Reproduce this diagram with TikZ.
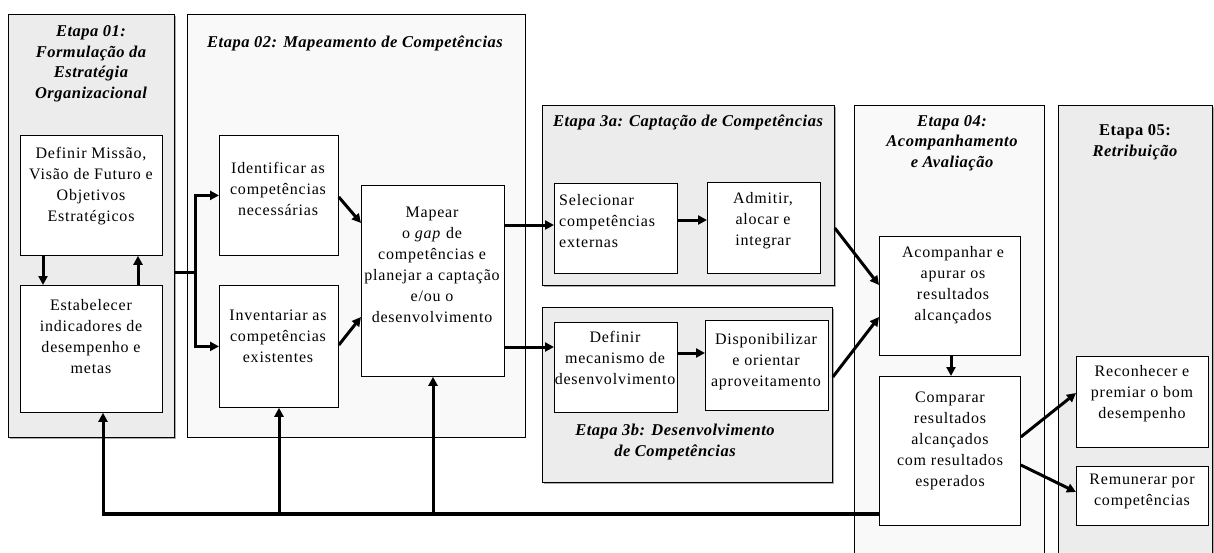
\documentclass[tikz,border=0pt]{standalone}
\usepackage{fontspec}
\setmainfont{Liberation Serif}
\newfontfamily\bodyfont[LetterSpace=5]{Liberation Serif}
\newfontfamily\titlefont[LetterSpace=3]{Liberation Serif}
\usetikzlibrary{arrows.meta,shadows}
\begin{document}
\begin{tikzpicture}[x=1pt,y=-1pt,
  stage/.style={draw=black, line width=0.8pt, inner sep=0pt, anchor=north west},
  dark/.style={stage, fill=gray!15, drop shadow={shadow xshift=2pt,shadow yshift=-2pt,fill=gray!65,opacity=1}},
  light/.style={stage, fill=gray!5},
  box/.style={draw=black, line width=0.8pt, fill=white, inner sep=0pt, anchor=north west},
  txt/.style={align=center, font=\bodyfont\fontsize{16}{21}\selectfont, inner sep=0pt},
  ttl/.style={align=center, font=\titlefont\fontsize{16.5}{20.5}\selectfont\bfseries\itshape, inner sep=0pt},
  arr/.style={line width=3pt, -{Triangle[length=9pt,width=9pt]}},
  ln/.style={line width=3pt},
]
\useasboundingbox (0,0) rectangle (1214,552);
% stages
\node[dark, minimum width=166, minimum height=423] (s1) at (8,14) {};
\node[light, minimum width=338, minimum height=423] (s2) at (187,14) {};
\node[dark, minimum width=292, minimum height=180] (s3a) at (542,105) {};
\node[dark, minimum width=290, minimum height=175] (s3b) at (542,307) {};
\node[light, minimum width=190, minimum height=470] (s4) at (854,105) {};
\node[dark, minimum width=154, minimum height=470] (s5) at (1058,105) {};
% titles
\node[ttl] (t1) at (91,64) {Etapa 01:\\Formulação da\\Estratégia\\Organizacional};
\node[ttl] (t2) at (355,43) {Etapa 02: Mapeamento de Competências};
\node[ttl] (t3a) at (688,122) {Etapa 3a: Captação de Competências};
\node[ttl] (t3b) at (675,442) {Etapa 3b: Desenvolvimento\\de Competências};
\node[ttl] (t4) at (952,143) {Etapa 04:\\Acompanhamento\\e Avaliação};
\node[ttl] (t5) at (1135,142) {\upshape Etapa 05:\\Retribuição};
% boxes
\node[box, minimum width=142, minimum height=120] (defmis) at (20,135) {};
\node[txt] (defmist) at (91,186) {Definir Missão,\\Visão de Futuro e\\Objetivos\\Estratégicos};
\node[box, minimum width=142, minimum height=127] (estab) at (20,285) {};
\node[txt] (estabt) at (91,337) {Estabelecer\\indicadores de\\desempenho e\\metas};
\node[box, minimum width=119, minimum height=120] (ident) at (219,135) {};
\node[txt] (identt) at (278,189) {Identificar as\\competências\\necessárias};
\node[box, minimum width=119, minimum height=122] (invent) at (219,285) {};
\node[txt] (inventt) at (278,336) {Inventariar as\\competências\\existentes};
\node[box, minimum width=143, minimum height=191] (mapear) at (361,185) {};
\node[txt] (mapeart) at (432,265) {Mapear\\o \textit{gap} de\\competências e\\planejar a captação\\e/ou o\\desenvolvimento};
\node[box, minimum width=123, minimum height=90] (sel) at (554,183) {};
\node[txt, align=left, anchor=west] (selt) at (559,221) {Selecionar\\competências\\externas};
\node[box, minimum width=113, minimum height=91] (adm) at (707,182) {};
\node[txt] (admt) at (763,221) {Admitir,\\alocar e\\integrar};
\node[box, minimum width=123, minimum height=90] (defm) at (554,322) {};
\node[txt] (defmt) at (615,358) {Definir\\mecanismo de\\desenvolvimento};
\node[box, minimum width=123, minimum height=90] (disp) at (705,320) {};
\node[txt] (dispt) at (766,362) {Disponibilizar\\e orientar\\aproveitamento};
\node[box, minimum width=141, minimum height=119] (acomp) at (879,236) {};
\node[txt] (acompt) at (953,285) {Acompanhar e\\apurar os\\resultados\\alcançados};
\node[box, minimum width=141, minimum height=149] (comp) at (879,376) {};
\node[txt] (compt) at (950,441) {Comparar\\resultados\\alcançados\\com resultados\\esperados};
\node[box, minimum width=132, minimum height=91] (recon) at (1076,356) {};
\node[txt] (recont) at (1142,394) {Reconhecer e\\premiar o bom\\desempenho};
\node[box, minimum width=132, minimum height=59] (remun) at (1076,466) {};
\node[txt] (remunt) at (1142,491) {Remunerar por\\competências};
% connectors
\coordinate (br) at (195,272);
\draw[ln] (br -| s1.east) -- (br);
\draw[arr] (br) |- (ident.west);
\draw[arr] (br) |- (invent.west);
\draw[arr] (defmis.south -| 43,0) -- (estab.north -| 43,0);
\draw[arr] (estab.north -| 138,0) -- (defmis.south -| 138,0);
\draw[arr] (ident.east |- 0,197) -- (mapear.west |- 0,223);
\draw[arr] (invent.east |- 0,345) -- (mapear.west |- 0,317);
\draw[arr] (mapear.east |- 0,225) -- (sel.west |- 0,225);
\draw[arr] (mapear.east |- 0,347) -- (defm.west |- 0,347);
\draw[arr] (sel.east |- 0,220) -- (adm.west |- 0,220);
\draw[arr] (defm.east |- 0,353) -- (disp.west |- 0,353);
\draw[arr] (s3a.east |- 0,228) -- (acomp.west |- 0,285);
\draw[arr] (s3b.east |- 0,377) -- (acomp.west |- 0,317);
\draw[arr] (acomp.south -| 951,0) -- (comp.north -| 951,0);
\draw[arr] (comp.east |- 0,437) -- (recon.west |- 0,393);
\draw[arr] (comp.east |- 0,465) -- (remun.west |- 0,492);
% feedback
\coordinate (fb1) at (103,514);
\coordinate (fb2) at (279,514);
\coordinate (fb3) at (433,514);
\draw[ln, line width=3.5pt] (comp.west |- fb1) -- ([xshift=-1.5pt]fb1);
\draw[arr] (fb1) -- (estab.south -| fb1);
\draw[arr] (fb2) -- (invent.south -| fb2);
\draw[arr] (fb3) -- (mapear.south -| fb3);
\end{tikzpicture}
\end{document}
